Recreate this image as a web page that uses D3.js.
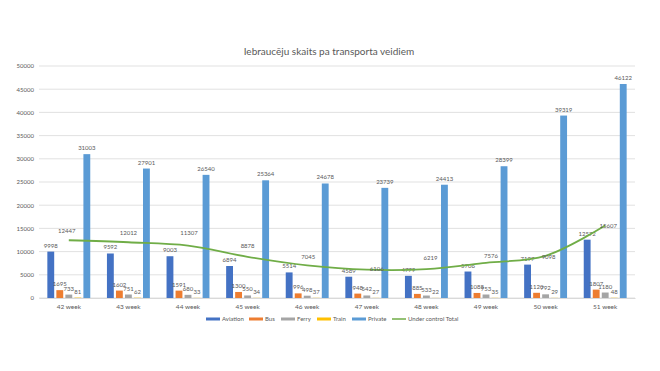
<!DOCTYPE html>
<html>
<head>
<meta charset="utf-8">
<script src="https://cdn.jsdelivr.net/npm/d3@7"></script>
<style>
  body { margin: 0; background: #fff; }
  svg text { font-family: Lato, "Open Sans", sans-serif; fill: #595959; }
</style>
</head>
<body>
<div id="chart"></div>
<script>
var weeks = ["42 week", "43 week", "44 week", "45 week", "46 week", "47 week", "48 week", "49 week", "50 week", "51 week"];
var aviation = [9998, 9592, 9003, 6894, 5514, 4589, 4779, 5706, 7197, 12572];
var bus      = [1695, 1602, 1591, 1300, 996, 948, 885, 1088, 1120, 1807];
var ferry    = [733, 751, 680, 550, 498, 542, 533, 753, 792, 1180];
var train    = [81, 62, 33, 34, 37, 27, 22, 35, 29, 48];
var priv     = [31003, 27901, 26540, 25364, 24678, 23739, 24413, 28399, 39319, 46122];
var underControl = [12447, 12012, 11307, 8878, 7045, 6106, 6219, 7576, 9098, 15607];
var yTicks = [0, 5000, 10000, 15000, 20000, 25000, 30000, 35000, 40000, 45000, 50000];

// nudges for the line labels (they were dragged around in the original)
var lblDx = [-2, 0, 1, 0, 1, 10, 4, 5, 3, 3];
var lblDy = [-9, -9, -13, -11, -8, -1, -11, -7, 1, 0];

var series = [
  {name: "Aviation", values: aviation, color: "#4472C4"},
  {name: "Bus", values: bus, color: "#ED7D31"},
  {name: "Ferry", values: ferry, color: "#A5A5A5"},
  {name: "Train", values: train, color: "#FFC000"},
  {name: "Private", values: priv, color: "#5B9BD5"}
];
var lineColor = "#70AD47";

var width = 660, height = 371;
var margin = {top: 66, right: 25, bottom: 73, left: 39};
var w = width - margin.left - margin.right,
    h = height - margin.top - margin.bottom;

var svg = d3.select("#chart").append("svg")
    .attr("width", width)
    .attr("height", height);

svg.append("text")
    .attr("x", 329)
    .attr("y", 55)
    .attr("text-anchor", "middle")
    .style("font-size", "10px")
    .text("Iebraucēju skaits pa transporta veidiem");

var g = svg.append("g")
    .attr("transform", "translate(" + margin.left + "," + margin.top + ")");

var x0 = d3.scaleBand().domain(weeks).range([0, w]).paddingInner(0.28).paddingOuter(0.14);
var x1 = d3.scaleBand().domain(series.map(function(s) { return s.name; }))
    .range([0, x0.bandwidth()]).paddingInner(0.24);
var y = d3.scaleLinear().domain([0, 50000]).range([h, 0]);

// gridlines
g.selectAll(".grid")
    .data(yTicks)
  .enter().append("line")
    .attr("x1", 0).attr("x2", w)
    .attr("y1", function(d) { return y(d); })
    .attr("y2", function(d) { return y(d); })
    .attr("stroke", "#d9d9d9")
    .attr("stroke-width", 0.8);

var yAxis = d3.axisLeft(y).tickValues(yTicks).tickFormat(d3.format("d")).tickSize(0).tickPadding(5);
g.append("g").call(yAxis)
    .call(function(a) { a.select(".domain").remove(); })
    .selectAll("text").style("font-size", "6px").style("fill", "#595959");

var xAxis = d3.axisBottom(x0).tickSize(0).tickPadding(6);
g.append("g").attr("transform", "translate(0," + h + ")").call(xAxis)
    .call(function(a) { a.select(".domain").attr("stroke", "#d9d9d9"); })
    .selectAll("text").style("font-size", "6.5px").style("fill", "#595959");

// bars
series.forEach(function(s) {
  var sg = g.append("g");
  sg.selectAll("rect")
      .data(s.values)
    .enter().append("rect")
      .attr("x", function(d, i) { return x0(weeks[i]) + x1(s.name); })
      .attr("width", x1.bandwidth())
      .attr("y", function(d) { return y(d); })
      .attr("height", function(d) { return h - y(d); })
      .attr("fill", s.color);
  sg.selectAll("text")
      .data(s.values)
    .enter().append("text")
      .attr("x", function(d, i) { return x0(weeks[i]) + x1(s.name) + x1.bandwidth() / 2; })
      .attr("y", function(d) { return y(d) - 4; })
      .attr("text-anchor", "middle")
      .style("font-size", "6px")
      .text(function(d) { return d; });
});

// line
var cx = function(i) { return x0(weeks[i]) + x0.bandwidth() / 2; };
var line = d3.line()
    .x(function(d, i) { return cx(i); })
    .y(function(d) { return y(d); })
    .curve(d3.curveCatmullRom);

g.append("path")
    .datum(underControl)
    .attr("d", line)
    .attr("fill", "none")
    .attr("stroke", lineColor)
    .attr("stroke-width", 1.8);

g.selectAll(".lbl")
    .data(underControl)
  .enter().append("text")
    .attr("x", function(d, i) { return cx(i) + lblDx[i]; })
    .attr("y", function(d, i) { return y(d) + lblDy[i] + 2; })
    .attr("text-anchor", "middle")
    .style("font-size", "6px")
    .text(function(d) { return d; });

// legend
var legendItems = series.map(function(s) { return {name: s.name, color: s.color}; })
    .concat([{name: "Under control Total", color: lineColor, line: true}]);
var legendX = [206, 249, 281, 317, 352, 392];
var lg = svg.append("g").attr("transform", "translate(0,319)");
legendItems.forEach(function(d, i) {
  var it = lg.append("g").attr("transform", "translate(" + legendX[i] + ",0)");
  if (d.line) {
    it.append("line").attr("x1", 0).attr("x2", 14).attr("y1", 0).attr("y2", 0)
      .attr("stroke", d.color).attr("stroke-width", 1.5);
  } else {
    it.append("rect").attr("x", 0).attr("y", -1.5).attr("width", 14).attr("height", 3)
      .attr("fill", d.color);
  }
  it.append("text").attr("x", 16).attr("y", 2).style("font-size", "6px").text(d.name);
});
</script>
</body>
</html>
